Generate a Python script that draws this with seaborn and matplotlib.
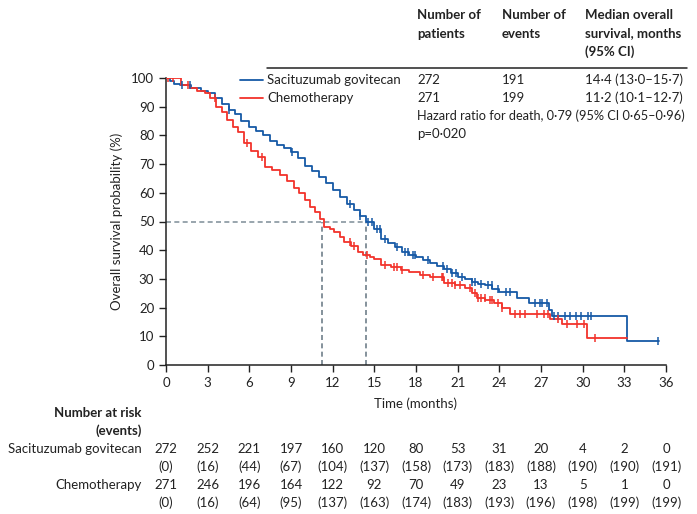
import numpy as np
import pandas as pd
import seaborn as sns
import matplotlib.pyplot as plt
import matplotlib.transforms as mtransforms

# Kaplan-Meier curves (time in months, survival in %)
sg_time = [0, 0.3, 0.6, 1.0, 1.8, 2.5, 3.0, 3.5, 4.0, 4.5, 5.0, 5.4, 6.0, 6.5, 7.0, 7.5,
           8.0, 8.5, 9.0, 9.5, 10.0, 10.5, 11.0, 11.5, 12.0, 12.5, 13.0, 13.5, 14.0, 14.4,
           15.0, 15.5, 16.0, 16.5, 17.0, 17.5, 18.0, 18.5, 19.0, 19.5, 20.0, 20.5, 21.0,
           21.5, 22.0, 22.5, 23.0, 23.5, 24.0, 25.3, 26.1, 27.6, 27.8, 33.2, 35.5]
sg_surv = [100, 99, 98, 97.5, 96.4, 95.5, 94.6, 93, 91, 89, 87.5, 85, 83, 81.5, 80, 78,
           76.7, 75.5, 74.3, 72, 69.5, 67.5, 65.5, 63.5, 61, 58.5, 56, 54, 52, 50,
           47.5, 44, 42.5, 41, 39.5, 38.5, 37.5, 36.5, 35.5, 34.5, 33.3, 32, 30.8,
           29.8, 28.8, 28.2, 27.9, 26.5, 25.5, 23.2, 21.5, 19, 17.2, 8.5, 8.5]
sg_censor = [1.13, 1.73, 4.5, 9.05, 13.25, 14.0, 14.57, 14.8, 15.17, 15.4, 15.77, 16.6,
             17.2, 17.45, 17.8, 17.9, 18.9, 19.97, 20.2, 20.57, 20.9, 21.3, 22.0, 22.25,
             22.7, 23.2, 23.45, 23.9, 24.5, 24.77, 26.6, 26.9, 27.05, 27.4, 27.9, 28.25,
             28.7, 29.1, 29.5, 29.9, 30.4, 30.6, 35.4]

ch_time = [0, 1.1, 1.7, 2.2, 2.8, 3.2, 3.6, 4.0, 4.4, 4.8, 5.2, 5.6, 6.1, 6.6, 7.1, 7.6,
           8.2, 8.7, 9.2, 9.6, 10.0, 10.4, 10.7, 11.1, 11.4, 11.8, 12.1, 12.5, 12.8, 13.3,
           13.8, 14.2, 14.7, 15.0, 15.5, 16.2, 16.9, 17.5, 18.3, 19.0, 20.0, 20.8, 21.5,
           22.0, 22.4, 23.0, 23.6, 24.2, 24.8, 27.65, 28.5, 30.3, 33.2]
ch_surv = [100, 97.5, 96.5, 95.5, 94.6, 92.9, 90, 88, 85.4, 83, 81.3, 77.2, 74.5, 72.6,
           69, 68, 66.2, 64, 61.6, 59.8, 57.5, 55, 53.4, 51, 48.2, 47.3, 46.4, 44.5, 43,
           41.5, 39.5, 38.5, 37.7, 37, 34.8, 34, 33.1, 32.5, 31.4, 30.5, 28.5, 27.8, 26.7,
           25, 23.2, 22.5, 21.5, 19.8, 17.8, 16, 14.2, 9.4, 9.4]
ch_censor = [0.17, 0.53, 1.6, 3.53, 5.8, 6.9, 13.25, 13.5, 14.45, 15.8, 16.4, 16.6, 16.97,
             18.5, 19.25, 19.85, 19.97, 20.3, 20.57, 20.8, 21.2, 21.9, 22.25, 22.5, 22.7,
             22.97, 23.3, 23.45, 23.9, 24.2, 25.1, 25.5, 25.85, 26.7, 27.2, 27.5, 28.25,
             28.85, 29.6, 30.1, 30.9]

medians = [14.4, 11.2]

risk_times = [0, 3, 6, 9, 12, 15, 18, 21, 24, 27, 30, 33, 36]
sg_risk = [272, 252, 221, 197, 160, 120, 80, 53, 31, 20, 4, 2, 0]
sg_events = [0, 16, 44, 67, 104, 137, 158, 173, 183, 188, 190, 190, 191]
ch_risk = [271, 246, 196, 164, 122, 92, 70, 49, 23, 13, 5, 1, 0]
ch_events = [0, 16, 64, 95, 137, 163, 174, 183, 193, 196, 198, 199, 199]

groups = ['Sacituzumab govitecan', 'Chemotherapy']
colors = {'Sacituzumab govitecan': '#1659a6', 'Chemotherapy': '#f2332b'}

km = pd.concat([
    pd.DataFrame({'time': sg_time, 'surv': sg_surv, 'group': groups[0]}),
    pd.DataFrame({'time': ch_time, 'surv': ch_surv, 'group': groups[1]}),
])


def step_value(t, times, surv):
    i = np.searchsorted(times, t, side='right') - 1
    return np.asarray(surv)[i]


sns.set_style('ticks')
plt.rcParams['font.family'] = ['Lato', 'DejaVu Sans']
FS = 9.5

W, H = 697, 514
fig = plt.figure(figsize=(W / 100, H / 100), dpi=100)
ax = fig.add_axes([166 / W, 1 - 365 / H, 500 / W, 287 / H])

# dashed median guides
ax.hlines(50, 0, max(medians), colors='#8796a0', linestyles=(0, (3, 2)), lw=1.2, zorder=1)
ax.vlines(medians, 0, 50, colors='#6f7f8a', linestyles=(0, (3, 2)), lw=1.2, zorder=1)

sns.lineplot(data=km, x='time', y='surv', hue='group', palette=colors, estimator=None,
             drawstyle='steps-post', lw=1.3, legend=False, ax=ax, zorder=3)

for t_list, times, surv, g in [(sg_censor, sg_time, sg_surv, groups[0]),
                               (ch_censor, ch_time, ch_surv, groups[1])]:
    yv = [step_value(t, times, surv) for t in t_list]
    ax.plot(t_list, yv, linestyle='none', marker='|', ms=5.5, mew=1.1, color=colors[g], zorder=4)

ax.set_xlim(0, 36)
ax.set_ylim(0, 100)
ax.set_xticks(risk_times)
ax.set_yticks(range(0, 101, 10))
ax.tick_params(axis='both', labelsize=FS, length=5, width=1, color='#222222', labelcolor='#222222')
ax.set_xlabel('Time (months)', fontsize=FS, color='#222222', labelpad=6)
ax.set_ylabel('Overall survival probability (%)', fontsize=FS, color='#222222', labelpad=6)
sns.despine(ax=ax)
for s in ['left', 'bottom']:
    ax.spines[s].set_linewidth(1.1)
    ax.spines[s].set_color('#222222')


def fx(px):
    return px / W


def fy(py):
    return 1 - py / H


# legend / summary table at top right
col_x = [417, 502, 585]
headers = [['Number of', 'patients'], ['Number of', 'events'],
           ['Median overall', 'survival, months', '(95% CI)']]
for x, lines in zip(col_x, headers):
    for k, line in enumerate(lines):
        fig.text(fx(x), fy(15 + 18.5 * k), line, fontsize=FS, fontweight='bold',
                 ha='left', va='center', color='#222222')
fig.add_artist(plt.Line2D([fx(267), fx(687)], [fy(68), fy(68)], color='#222222', lw=1.1))

rows = [['272', '191', '14·4 (13·0–15·7)'], ['271', '199', '11·2 (10·1–12·7)']]
for k, (g, vals) in enumerate(zip(groups, rows)):
    y = 80 + 18 * k
    fig.add_artist(plt.Line2D([fx(240), fx(263)], [fy(y), fy(y)], color=colors[g], lw=1.3))
    fig.text(fx(267), fy(y), g, fontsize=FS, ha='left', va='center', color='#222222')
    for x, v in zip(col_x, vals):
        fig.text(fx(x), fy(y), v, fontsize=FS, ha='left', va='center', color='#222222')
fig.text(fx(417), fy(116), 'Hazard ratio for death, 0·79 (95% CI 0·65–0·96)', fontsize=9.2,
         ha='left', va='center', color='#222222')
fig.text(fx(417), fy(134), 'p=0·020', fontsize=FS, ha='left', va='center', color='#222222')

# number at risk table
trans = mtransforms.blended_transform_factory(ax.transData, fig.transFigure)
fig.text(fx(142), fy(413), 'Number at risk', fontsize=FS, fontweight='bold', ha='right',
         va='center', color='#222222')
fig.text(fx(142), fy(431), '(events)', fontsize=FS, fontweight='bold', ha='right',
         va='center', color='#222222')
for k, (g, risk, ev) in enumerate([(groups[0], sg_risk, sg_events),
                                   (groups[1], ch_risk, ch_events)]):
    y1 = 449 + 36 * k
    fig.text(fx(142), fy(y1), g, fontsize=FS, ha='right', va='center', color='#222222')
    for t, r, e in zip(risk_times, risk, ev):
        ax.text(t, fy(y1), str(r), transform=trans, fontsize=FS, ha='center', va='center',
                color='#222222')
        ax.text(t, fy(y1 + 18), f'({e})', transform=trans, fontsize=FS, ha='center',
                va='center', color='#222222')

fig.savefig('out.png', dpi=100)
